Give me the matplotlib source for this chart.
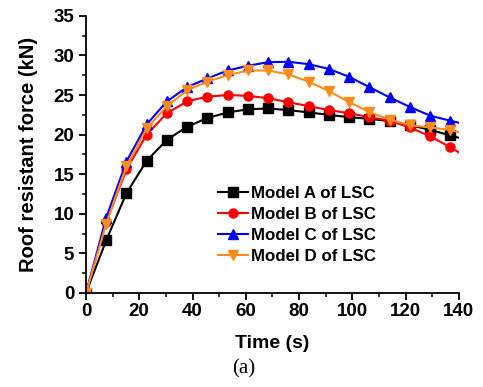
import matplotlib
matplotlib.use("Agg")
import matplotlib.pyplot as plt
from matplotlib.ticker import MultipleLocator

plt.rcParams['font.family'] = ['Liberation Sans', 'DejaVu Sans']

time = [0, 7.6, 15.2, 22.8, 30.4, 38.0, 45.6, 53.2, 60.8, 68.4, 76.0, 83.6,
        91.2, 98.8, 106.4, 114.0, 121.6, 129.2, 136.8, 140]
model_a = [0, 6.65, 12.6, 16.7, 19.35, 21.0, 22.1, 22.8, 23.2, 23.3, 23.1, 22.8,
           22.5, 22.2, 22.0, 21.7, 21.2, 20.6, 19.9, 19.6]
model_b = [0, 8.9, 15.6, 20.0, 22.7, 24.2, 24.8, 25.0, 24.9, 24.6, 24.1, 23.6,
           23.1, 22.7, 22.2, 21.75, 20.9, 19.8, 18.4, 17.75]
model_c = [0, 9.5, 16.6, 21.3, 24.2, 26.0, 27.1, 28.1, 28.7, 29.15, 29.2, 28.9,
           28.3, 27.3, 26.0, 24.7, 23.5, 22.4, 21.75, 21.5]
model_d = [0, 8.75, 16.0, 20.8, 23.6, 25.6, 26.7, 27.5, 28.1, 28.1, 27.6, 26.7,
           25.5, 24.1, 22.85, 21.9, 21.2, 20.9, 20.6, 20.3]
labels = ["Model A of LSC", "Model B of LSC", "Model C of LSC", "Model D of LSC"]

fig = plt.figure(figsize=(4.83, 3.87), dpi=100)
ax = fig.add_axes([0.178, 0.243, 0.772, 0.716])

styles = [("black", "s"), ("red", "o"), ("blue", "^"), ("#ff8c1a", "v")]
n = len(time)
for ys, (c, m), lab in zip([model_a, model_b, model_c, model_d], styles, labels):
    ax.plot(time, ys, color=c, marker=m, markersize=6.5, linewidth=1.5,
            markevery=list(range(n - 1)), label=lab)

ax.set_xlim(0, 140)
ax.set_ylim(0, 35)
ax.xaxis.set_major_locator(MultipleLocator(20))
ax.xaxis.set_minor_locator(MultipleLocator(10))
ax.yaxis.set_major_locator(MultipleLocator(5))
ax.yaxis.set_minor_locator(MultipleLocator(2.5))
ax.spines['top'].set_visible(False)
ax.spines['right'].set_visible(False)
for s in ['left', 'bottom']:
    ax.spines[s].set_linewidth(1.3)
ax.tick_params(which='major', direction='out', length=5, width=1.3, labelsize=13.5, pad=2)
ax.tick_params(axis='y', which='major', pad=3.5)
ax.tick_params(which='minor', direction='out', length=3, width=1.1)
for t in ax.get_xticklabels() + ax.get_yticklabels():
    t.set_fontweight('bold')

ax.set_xlabel("Time (s)", fontsize=14, fontweight='bold', labelpad=11)
ax.set_ylabel("Roof resistant force (kN)", fontsize=14.5, fontweight='bold', labelpad=11)

leg = ax.legend(loc='lower left', bbox_to_anchor=(0.354, 0.105), frameon=False,
                prop={'weight': 'bold', 'size': 12.2}, handlelength=1.8,
                handletextpad=0.15, labelspacing=0.36, borderaxespad=0,
                borderpad=0)

fig.text(0.505, 0.022, "(a)", fontsize=15, family=['Liberation Serif', 'DejaVu Serif'],
         ha='center', va='bottom')

fig.savefig("out.png", dpi=100)
